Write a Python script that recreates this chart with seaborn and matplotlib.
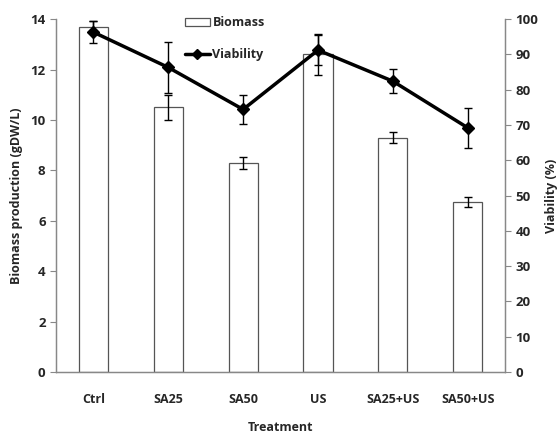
import numpy as np
import pandas as pd
import matplotlib
matplotlib.use("Agg")
import matplotlib.pyplot as plt
import seaborn as sns
from matplotlib.patches import Patch
from matplotlib.lines import Line2D

# values
treatments = ["Ctrl", "SA25", "SA50", "US", "SA25+US", "SA50+US"]
biomass = [13.7, 10.5, 8.3, 12.6, 9.3, 6.73]
biomass_err = [0.22, 0.5, 0.23, 0.8, 0.22, 0.2]
viability = [96.3, 86.3, 74.4, 91.2, 82.4, 69.2]
viability_err = [3.1, 7.3, 4.0, 4.3, 3.4, 5.6]

df = pd.DataFrame({"Treatment": treatments, "Biomass": biomass})

sns.set_style("white")
plt.rcParams["font.family"] = ["Open Sans", "DejaVu Sans"]

fig = plt.figure(figsize=(5.6, 4.34), dpi=100)
ax = fig.add_axes([0.1, 0.143, 0.802, 0.813])

sns.barplot(x="Treatment", y="Biomass", data=df, ax=ax, color="white",
            edgecolor="#555555", linewidth=0.9, width=0.39, saturation=1)
x = np.arange(len(treatments))
ax.errorbar(x, biomass, yerr=biomass_err, fmt="none", ecolor="black",
            elinewidth=1, capsize=3, capthick=1)

ax.set_ylim(0, 14)
ax.set_yticks(range(0, 15, 2))
ax.set_xlim(-0.5, len(treatments) - 0.5)
ax.set_xticks(np.arange(-0.5, len(treatments), 1.0))
ax.set_xticklabels([])
ax.set_xticks(x, minor=True)
ax.set_xticklabels(treatments, minor=True, fontweight="bold", fontsize=9)
ax.tick_params(axis="x", which="minor", length=0, pad=15)
ax.tick_params(axis="x", which="major", length=4, width=0.8, color="#888888", direction="out")
ax.tick_params(axis="y", length=4, width=0.8, color="#888888", direction="out", labelsize=9.5)
for lab in ax.get_yticklabels():
    lab.set_fontweight("bold")
ax.set_xlabel("Treatment", fontweight="bold", fontsize=9, labelpad=11)
ax.set_ylabel("Biomass production (gDW/L)", fontweight="bold", fontsize=9, labelpad=5)

ax2 = ax.twinx()
ax2.errorbar(x, viability, yerr=viability_err, color="black", linewidth=2.5,
             marker="D", markersize=6, ecolor="black", elinewidth=1,
             capsize=3, capthick=1)
ax2.set_ylim(0, 100)
ax2.set_yticks(range(0, 101, 10))
ax2.tick_params(axis="y", length=4, width=0.8, color="#888888", direction="out", labelsize=9.5)
for lab in ax2.get_yticklabels():
    lab.set_fontweight("bold")
ax2.set_ylabel("Viability (%)", fontweight="bold", fontsize=9, rotation=90, labelpad=5)

for a in (ax, ax2):
    a.spines["top"].set_visible(False)
    for s in ("left", "right", "bottom"):
        a.spines[s].set_color("#888888")
        a.spines[s].set_linewidth(0.9)

handles = [Patch(facecolor="white", edgecolor="#555555", linewidth=0.9),
           Line2D([0], [0], color="black", linewidth=2.5, marker="D", markersize=5)]
ax2.legend(handles, ["Biomass", "Viability"], loc="upper left",
           bbox_to_anchor=(0.262, 1.04), frameon=False,
           handlelength=2.0, handleheight=0.6, handletextpad=0.2, labelspacing=1.5,
           prop={"weight": "bold", "size": 9})

fig.savefig("out.png", dpi=100)
